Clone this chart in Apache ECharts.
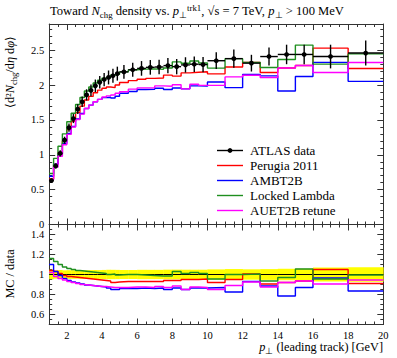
<!DOCTYPE html>
<html><head><meta charset="utf-8">
<script src="https://cdn.jsdelivr.net/npm/echarts@6/dist/echarts.min.js"></script>
<style>html,body{margin:0;padding:0;background:#fff}#c{width:397px;height:358px}</style>
</head><body><div id="c"></div>
<script>
// ---- data ----
const binEdges = [1,1.25,1.5,1.75,2,2.25,2.5,2.75,3,3.25,3.5,3.75,4,4.25,4.5,4.75,5,5.5,6,6.5,7,7.5,8,8.5,9,9.5,10,11,12,13,14,15,16,18,20];
const atlasData = [0.63,0.84,1.02,1.21,1.39,1.52,1.655,1.76,1.86,1.925,1.99,2.04,2.08,2.11,2.135,2.165,
  2.19,2.22,2.24,2.255,2.26,2.28,2.265,2.29,2.30,2.295, 2.35,2.38,2.315,2.41,2.44,2.44, 2.41,2.46];
const atlasErr = [0.03,0.035,0.045,0.05,0.06,0.065,0.07,0.075,0.08,0.085,0.09,0.09,0.095,0.1,0.1,0.1,
  0.1,0.1,0.105,0.105,0.105,0.11,0.11,0.11,0.11,0.11, 0.12,0.13,0.12,0.13,0.14,0.14, 0.17,0.18];
const perugiaRatio = [1.04,1.03,1.01,0.99,0.98,0.975,0.97,0.965,0.96,0.955,0.95,0.945,0.94,0.935,0.92,0.925,
  0.93,0.93,0.93,0.93,0.93,0.94,0.94,0.95,0.95,0.955, 0.92,0.95,1.005,0.905,0.92,0.935, 1.05,0.91];
const ambtRatio = [1.10,1.03,0.99,0.96,0.94,0.925,0.915,0.905,0.895,0.89,0.885,0.88,0.875,0.865,0.85,0.85,
  0.86,0.86,0.865,0.86,0.865,0.85,0.865,0.85,0.865,0.865, 0.87,0.825,0.93,0.885,0.785,0.87, 0.965,0.835];
const lockedRatio = [1.16,1.13,1.10,1.075,1.06,1.05,1.04,1.035,1.03,1.025,1.02,1.015,1.01,1.0,1.005,0.995,
  1.0,1.0,0.995,0.99,0.985,0.985,1.03,1.01,1.02,1.01, 0.955,1.0,1.005,0.935,0.97,1.055, 0.955,0.995];
const auetRatio = [1.02,0.98,0.96,0.945,0.93,0.92,0.91,0.90,0.895,0.89,0.885,0.88,0.88,0.875,0.87,0.87,
  0.87,0.875,0.875,0.87,0.88,0.87,0.885,0.85,0.875,0.87, 0.85,0.89,0.925,0.875,0.92,0.935, 0.905,0.945];
const seriesNames = ['ATLAS data','Perugia 2011','AMBT2B','Locked Lambda','AUET2B retune'];
const xMajorTicks = [2,4,6,8,10,12,14,16,18,20];
const mainYTicks = [0,0.5,1,1.5,2,2.5];
const ratioYTicks = [0.6,0.8,1,1.2,1.4];

// ---- layout / style ----
const FONT = 'Liberation Serif';
const FRAME = '#333';
const L = 49.2, R = 383.3, T0 = 24, B0 = 224.5, B1 = 324.5;
const colors = ['#000000','#ff0000','#0000ff','#1f8f1f','#ff00ff'];
const ratios = [perugiaRatio, ambtRatio, lockedRatio, auetRatio];

function range(a, b, s){ const r=[]; for(let v=a; v<=b+1e-9; v+=s) r.push(+v.toFixed(4)); return r; }
const xMinor = range(1,20,0.5);
const mainYMinor = range(0,2.8,0.1);
const ratioYMinor = range(0.5,1.5,0.05);
const yMax = 2.877;

function axis(grid, pos, min, max, ticks, len, labels, line){
  return {type:'value', gridIndex:grid, position:pos, min:min, max:max,
    axisLine:{show:line, onZero:false, lineStyle:{color:FRAME,width:1}},
    axisTick:{show:true, inside:true, length:len, customValues:ticks, lineStyle:{color:FRAME,width:1}},
    axisLabel:{show:!!labels, customValues:labels||ticks, margin:5, fontFamily:FONT, fontSize:10.5, color:'#000'},
    splitLine:{show:false}, minorTick:{show:false}};
}
const xAxes = [];
const yAxes = [];
[[0,null],[1,xMajorTicks]].forEach(([g,lab])=>{
  xAxes.push(axis(g,'bottom',1,20,xMajorTicks,6,lab,true));
  xAxes.push(axis(g,'bottom',1,20,xMinor,3,null,false));
  xAxes.push(axis(g,'top',1,20,xMajorTicks,6,null,true));
  xAxes.push(axis(g,'top',1,20,xMinor,3,null,false));
});
yAxes.push(axis(0,'left',0,yMax,mainYTicks,6,mainYTicks,true));
yAxes.push(axis(0,'left',0,yMax,mainYMinor,3,null,false));
yAxes.push(axis(0,'right',0,yMax,mainYTicks,6,null,true));
yAxes.push(axis(0,'right',0,yMax,mainYMinor,3,null,false));
yAxes.push(axis(1,'left',0.5,1.5,ratioYTicks,6,ratioYTicks,true));
yAxes.push(axis(1,'left',0.5,1.5,ratioYMinor,3,null,false));
yAxes.push(axis(1,'right',0.5,1.5,ratioYTicks,6,null,true));
yAxes.push(axis(1,'right',0.5,1.5,ratioYMinor,3,null,false));

function histPts(vals){
  const p=[]; vals.forEach((v,i)=>{ p.push([binEdges[i],v]); p.push([binEdges[i+1],v]); }); return p;
}
const series = [];
// yellow uncertainty band in ratio
series.push({type:'custom', xAxisIndex:4, yAxisIndex:4, z:1, silent:true,
  data: atlasData.map((d,i)=>[binEdges[i],binEdges[i+1],atlasErr[i]/d]),
  renderItem:(params,api)=>{
    const a=api.coord([api.value(0),1+api.value(2)]), b=api.coord([api.value(1),1-api.value(2)]);
    return {type:'rect', shape:{x:a[0],y:a[1],width:b[0]-a[0]+0.3,height:b[1]-a[1]}, style:{fill:'#ffff00'}};
  }});
series.push({type:'line', xAxisIndex:4, yAxisIndex:4, z:2, symbol:'none', silent:true,
  data: histPts(atlasData.map(()=>1)), lineStyle:{color:'#000',width:1}});
ratios.forEach((r,k)=>{
  series.push({type:'line', name:seriesNames[k+1], xAxisIndex:0, yAxisIndex:0, z:3+k, symbol:'none', silent:true,
    data: histPts(r.map((v,i)=>v*atlasData[i])), lineStyle:{color:colors[k+1],width:1.4}});
  series.push({type:'line', xAxisIndex:4, yAxisIndex:4, z:3+k, symbol:'none', silent:true,
    data: histPts(r), lineStyle:{color:colors[k+1],width:1.4}});
});
series.push({type:'custom', name:seriesNames[0], xAxisIndex:0, yAxisIndex:0, z:10, silent:true,
  data: atlasData.map((d,i)=>[binEdges[i],binEdges[i+1],(binEdges[i]+binEdges[i+1])/2,d,atlasErr[i]]),
  renderItem:(params,api)=>{
    const lo=api.coord([api.value(0),api.value(3)]), hi=api.coord([api.value(1),api.value(3)]);
    const c=api.coord([api.value(2),api.value(3)]);
    const up=api.coord([api.value(2),api.value(3)+api.value(4)]), dn=api.coord([api.value(2),api.value(3)-api.value(4)]);
    const st={stroke:'#000',lineWidth:1.4};
    return {type:'group', children:[
      {type:'line', shape:{x1:lo[0],y1:lo[1],x2:hi[0],y2:hi[1]}, style:st},
      {type:'line', shape:{x1:up[0],y1:up[1],x2:dn[0],y2:dn[1]}, style:st},
      {type:'circle', shape:{cx:c[0],cy:c[1],r:2.4}, style:{fill:'#000'}}
    ]};
  }});

// ---- text / legend ----
function mkRich(fs){
  return {
    n:{fontFamily:FONT,fontSize:fs,color:'#000',lineHeight:fs+4},
    i:{fontFamily:FONT,fontSize:fs,fontStyle:'italic',color:'#000',lineHeight:fs+4},
    sub:{fontFamily:FONT,fontSize:fs*0.7,color:'#000',verticalAlign:'bottom',lineHeight:fs*0.75},
    sup:{fontFamily:FONT,fontSize:fs*0.7,color:'#000',verticalAlign:'top',lineHeight:fs*0.75}
  };
}
const legendY = [150.5,165.5,180.5,195.5,210.5];
const graphic = [
  {type:'text', left:50, top:3, style:{rich:mkRich(12.6), text:'{n|Toward }{i|N}{sub|chg}{n| density vs. }{i|p}{sub|⊥}{sup|trk1}{n|, √s = 7 TeV, }{i|p}{sub|⊥}{n| > 100 MeV}'}},
  {type:'text', x:383, y:347, style:{rich:mkRich(12.3), align:'right', verticalAlign:'middle', text:'{i|p}{sub|⊥}{n| (leading track) [GeV]}'}},
  {type:'text', x:10, y:72, rotation:Math.PI/2, style:{rich:mkRich(12.3), align:'center', verticalAlign:'middle', text:'{n|⟨d²}{i|N}{sub|chg}{n|/d}{i|η}{n| d}{i|φ}{n|⟩}'}},
  {type:'text', x:10, y:274, rotation:Math.PI/2, style:{rich:mkRich(12.3), align:'center', verticalAlign:'middle', text:'{n|MC / data}'}}
];
seriesNames.forEach((nm,k)=>{
  graphic.push({type:'line', shape:{x1:217,y1:legendY[k],x2:243,y2:legendY[k]}, style:{stroke:colors[k],lineWidth:1.4}});
  if(k===0) graphic.push({type:'circle', shape:{cx:230,cy:legendY[k],r:2.4}, style:{fill:'#000'}});
  graphic.push({type:'text', x:250, y:legendY[k], style:{text:nm, fontFamily:FONT, fontSize:13, fill:'#000', verticalAlign:'middle'}});
});

const chart = echarts.init(document.getElementById('c'), null, {renderer:'svg', width:397, height:358});
chart.setOption({
  animation:false, backgroundColor:'#fff',
  grid:[{left:L, width:R-L, top:T0, height:B0-T0},{left:L, width:R-L, top:B0, height:B1-B0}],
  xAxis:xAxes, yAxis:yAxes, series:series, graphic:graphic
});
</script></body></html>
